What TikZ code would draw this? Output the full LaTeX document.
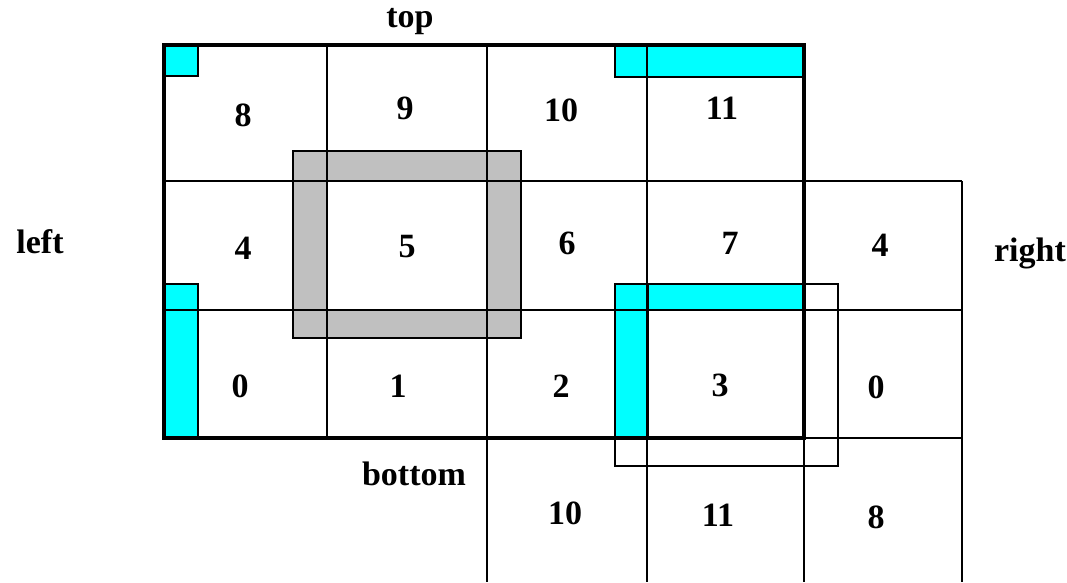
\documentclass[tikz,border=0pt]{standalone}
\usepackage{fontspec}
\setmainfont{Liberation Serif}
\usetikzlibrary{positioning}

\definecolor{aqua}{RGB}{0,255,255}
\definecolor{silver}{RGB}{192,192,192}
\newcommand{\cellfont}{\fontsize{34}{38}\selectfont\bfseries}

\begin{document}
\begin{tikzpicture}[
        x=1pt, y=-1pt,
        grid/.style={line width=1.5pt},
        frame/.style={line width=3.5pt},
        cyanbox/.style={draw, line width=1.2pt, fill=aqua},
        graybox/.style={draw, line width=1.5pt, fill=silver},
        num/.style={font=\cellfont, inner sep=0pt},
        side/.style={font=\cellfont, inner sep=0pt, anchor=base}
    ]

    \useasboundingbox (0,0) rectangle (1067,582);

    % Shaded marks
    \fill[graybox] (293,151) rectangle (521,338);
    \fill[white] (327,181) rectangle (487,310);
    \draw[cyanbox] (164,45) rectangle (198,76);
    \draw[cyanbox] (615,45) rectangle (804,77);
    \draw[cyanbox] (164,284) rectangle (198,438);
    \draw[cyanbox] (615,284) rectangle (804,310);
    \draw[cyanbox] (615,284) rectangle (648,438);

    % Grid lines
    \draw[grid] (327,45) -- (327,438);
    \draw[grid] (487,45) -- (487,582);
    \draw[grid] (647,45) -- (647,582);
    \draw[grid] (804,438) -- (804,582);
    \draw[grid] (962,181) -- (962,582);
    \draw[grid] (164,181) -- (962,181);
    \draw[grid] (164,310) -- (962,310);
    \draw[grid] (804,438) -- (962,438);
    \draw[grid] (615,284) rectangle (838,466);

    % Main block
    \draw[frame] (164,45) rectangle (804,438);

    % Cell numbers
    \foreach \x/\y/\t/\n in {243/115/8/c8, 405/108/9/c9, 561/110/10/c10, 722/108/11/c11,
                             243/248/4/c4, 407/247/5/c5, 567/243/6/c6, 730/243/7/c7, 880/245/4/r4,
                             240/386/0/c0, 398/386/1/c1, 561/386/2/c2, 720/385/3/c3, 876/387/0/r0,
                             565/513/10/b10, 718/515/11/b11, 876/517/8/b8}
        \node[num] (\n) at (\x,\y) {\t};

    % Sides
    \node[side] (top) at (410,27) {top};
    \node[side] (left) at (40,253) {left};
    \node[side] (right) at (1030,261) {right};
    \node[side] (bottom) at (414,485) {bottom};

\end{tikzpicture}
\end{document}
